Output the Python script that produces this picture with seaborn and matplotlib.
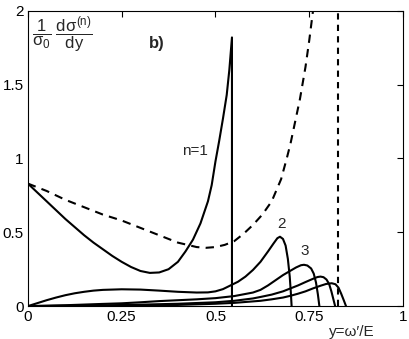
import numpy as np
import pandas as pd
import matplotlib
matplotlib.use("Agg")
import matplotlib.pyplot as plt
import seaborn as sns

# curve values (x = y=omega'/E, y = normalised cross section)
n1_x = [0, 0.025, 0.05, 0.075, 0.10, 0.125, 0.15, 0.175, 0.20, 0.225, 0.25, 0.275, 0.30,
        0.325, 0.35, 0.375, 0.40, 0.42, 0.44, 0.46, 0.48, 0.49, 0.50, 0.51, 0.52, 0.53,
        0.537, 0.544, 0.544]
n1_y = [0.83, 0.77, 0.71, 0.65, 0.59, 0.535, 0.48, 0.43, 0.385, 0.34, 0.30, 0.265, 0.238,
        0.225, 0.228, 0.25, 0.30, 0.37, 0.45, 0.56, 0.71, 0.82, 0.98, 1.12, 1.27, 1.43,
        1.6, 1.82, 0]

n2_x = [0, 0.025, 0.05, 0.075, 0.10, 0.125, 0.15, 0.175, 0.20, 0.25, 0.30, 0.35, 0.40,
        0.45, 0.48, 0.50, 0.52, 0.54, 0.56, 0.58, 0.60, 0.62, 0.64, 0.655, 0.665, 0.672,
        0.68, 0.687, 0.693, 0.698, 0.701, 0.703]
n2_y = [0, 0.02, 0.04, 0.058, 0.074, 0.087, 0.097, 0.105, 0.11, 0.114, 0.112, 0.105, 0.097,
        0.092, 0.093, 0.10, 0.115, 0.14, 0.165, 0.20, 0.245, 0.30, 0.37, 0.425, 0.46, 0.47,
        0.455, 0.41, 0.32, 0.20, 0.09, 0]

n3_x = [0, 0.10, 0.20, 0.25, 0.30, 0.35, 0.40, 0.45, 0.50, 0.55, 0.60, 0.62, 0.64, 0.66,
        0.68, 0.70, 0.715, 0.728, 0.736, 0.745, 0.755, 0.762, 0.768, 0.773, 0.777]
n3_y = [0, 0.006, 0.015, 0.019, 0.026, 0.034, 0.04, 0.046, 0.054, 0.068, 0.092, 0.11, 0.14,
        0.175, 0.21, 0.24, 0.262, 0.277, 0.28, 0.275, 0.255, 0.22, 0.16, 0.08, 0]

n4_x = [0, 0.20, 0.30, 0.40, 0.50, 0.55, 0.60, 0.62, 0.65, 0.68, 0.70, 0.72, 0.74, 0.76,
        0.772, 0.78, 0.788, 0.796, 0.803, 0.809, 0.814, 0.819]
n4_y = [0, 0.005, 0.01, 0.016, 0.026, 0.036, 0.052, 0.062, 0.078, 0.10, 0.12, 0.14, 0.163,
        0.185, 0.197, 0.20, 0.196, 0.18, 0.15, 0.10, 0.05, 0]

n5_x = [0, 0.30, 0.40, 0.50, 0.55, 0.60, 0.62, 0.65, 0.68, 0.70, 0.72, 0.74, 0.76, 0.78,
        0.795, 0.81, 0.82, 0.828, 0.835, 0.842, 0.848]
n5_y = [0, 0.003, 0.008, 0.016, 0.022, 0.032, 0.036, 0.046, 0.058, 0.07, 0.084, 0.10, 0.12,
        0.138, 0.15, 0.155, 0.148, 0.125, 0.085, 0.04, 0]

dash_x = [0, 0.05, 0.10, 0.15, 0.20, 0.25, 0.30, 0.35, 0.40, 0.45, 0.475, 0.50, 0.525,
          0.55, 0.575, 0.60, 0.625, 0.65, 0.66, 0.675, 0.69, 0.70, 0.71, 0.725, 0.74,
          0.75, 0.76, 0.765]
dash_y = [0.83, 0.78, 0.72, 0.67, 0.62, 0.58, 0.53, 0.48, 0.43, 0.40, 0.395, 0.40, 0.415,
          0.44, 0.49, 0.55, 0.62, 0.71, 0.77, 0.86, 1.0, 1.1, 1.22, 1.40, 1.62, 1.8, 2.0, 2.08]

y_limit = 0.826

xticks = [0, 0.25, 0.5, 0.75, 1]
xtick_labels = ["0", "0.25", "0.5", "0.75", "1"]
yticks = [0, 0.5, 1, 1.5, 2]
ytick_labels = ["0", "0.5", "1", "1.5", "2"]

sns.set_style("white")
plt.rcParams["font.family"] = ["Liberation Sans", "DejaVu Sans"]
plt.rcParams["mathtext.fontset"] = "custom"
plt.rcParams["mathtext.rm"] = "Liberation Sans"
plt.rcParams["mathtext.it"] = "Liberation Sans"
plt.rcParams["mathtext.bf"] = "Liberation Sans:bold"

fig = plt.figure(figsize=(4.1, 3.39), dpi=100)
ax = fig.add_axes([0.068, 0.097, 0.915, 0.871])

lw = 1.5
for xs, ys in [(n1_x, n1_y), (n2_x, n2_y), (n3_x, n3_y), (n4_x, n4_y), (n5_x, n5_y)]:
    df = pd.DataFrame({"x": xs, "y": ys})
    sns.lineplot(data=df, x="x", y="y", sort=False, estimator=None, color="black",
                 linewidth=lw, ax=ax)

df_d = pd.DataFrame({"x": dash_x, "y": dash_y})
sns.lineplot(data=df_d, x="x", y="y", sort=False, estimator=None, color="black",
             linewidth=lw, linestyle=(0, (4, 3)), ax=ax)
ax.axvline(y_limit, color="black", linewidth=lw, linestyle=(0, (3, 2.5)))

ax.set_xlim(0, 1)
ax.set_ylim(0, 2)
ax.set_xticks(xticks)
ax.set_xticklabels(xtick_labels)
ax.set_yticks(yticks)
ax.set_yticklabels(ytick_labels)
ax.set_xlabel("")
ax.set_ylabel("")
ax.tick_params(direction="in", length=4, width=0.8, top=True, right=True,
               labelsize=11, pad=3, colors="black")
for s in ax.spines.values():
    s.set_color("black")
    s.set_linewidth(0.8)

ax.text(0.445, 1.05, "n=1", fontsize=11, ha="center", va="center")
ax.text(0.676, 0.555, "2", fontsize=11, ha="center", va="center")
ax.text(0.739, 0.37, "3", fontsize=11, ha="center", va="center")
ax.text(0.343, 1.78, "b)", fontsize=12, fontweight="bold", ha="center", va="center")
ax.text(0.012, 1.975, r"$\dfrac{1}{\sigma_0}\ \dfrac{d\sigma^{(n)}}{dy}$", fontsize=12,
        ha="left", va="top")
ax.text(0.864, -0.065, "y=\u03c9\u2032/E", fontsize=11, ha="center", va="top",
        transform=ax.get_xaxis_transform())

fig.savefig("out.png", dpi=100)
